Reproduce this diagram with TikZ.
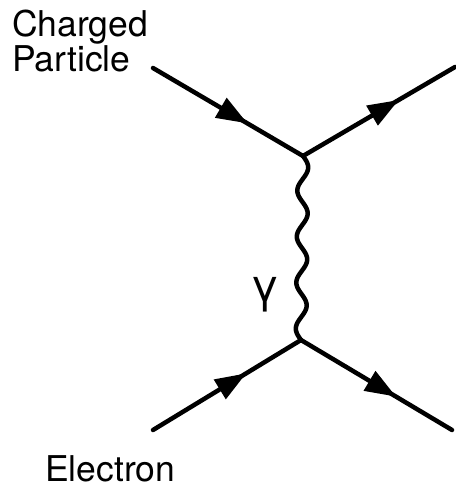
\documentclass[tikz,border=0pt]{standalone}
\usepackage{fontspec}
\setmainfont{TeX Gyre Heros}
\usetikzlibrary{arrows.meta,decorations.markings,calc}
\begin{document}
\begin{tikzpicture}[x=1pt,y=-1pt,
  fermion/.style={line width=4.5pt, line cap=round, line join=round,
    postaction={decorate},
    decoration={markings, mark=at position 0.63 with {\arrow{Triangle[length=31pt,width=22pt]}}}},
  photon/.style={line width=4.5pt, line cap=round, line join=round},
  lbl/.style={font=\fontsize{35.5pt}{35pt}\selectfont, inner sep=0pt}]
\useasboundingbox (0,0) rectangle (455,486);
\coordinate (a) at (153,68);
\coordinate (v1) at (303,156);
\coordinate (b) at (455,67);
\coordinate (c) at (153,430);
\coordinate (v2) at (301,340);
\coordinate (d) at (452,430);
\draw[fermion] (a) -- (v1);
\draw[fermion] (v1) -- (b);
\draw[fermion] (c) -- (v2);
\draw[fermion] (v2) -- (d);
\draw[photon] let \p1=(v1), \p2=(v2) in
  plot[variable=\t, domain=0:1, samples=161, smooth]
  ({\x1+(\x2-\x1)*\t+5.3pt*sin(1440*\t)}, {\y1+(\y2-\y1)*\t});
\node[lbl, align=left, anchor=north west] (cp) at (12,10) {Charged\\Particle};
\node[lbl, anchor=base west] (el) at (45,481) {Electron};
\node[lbl, font=\fontsize{46pt}{46pt}\selectfont] (g) at (265,295) {γ};
\end{tikzpicture}
\end{document}
